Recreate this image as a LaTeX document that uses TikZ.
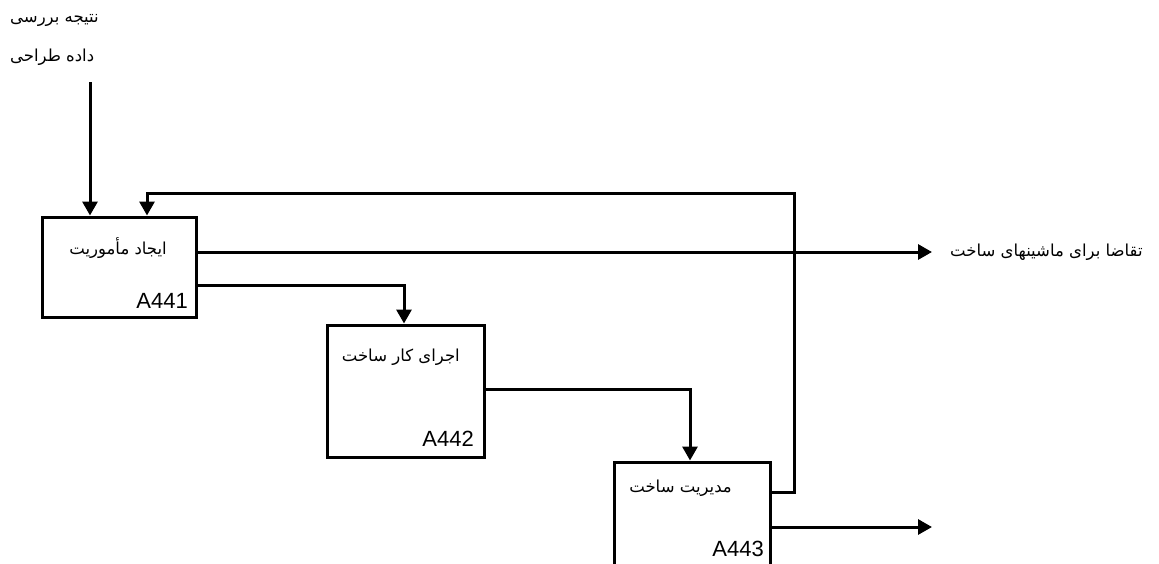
\documentclass[tikz,border=0pt]{standalone}
\usepackage{fontspec}
\setmainfont{Liberation Sans}
\newfontfamily\arabicfont[Script=Arabic]{DejaVu Sans}
\TeXXeTstate=1
\usetikzlibrary{arrows.meta}
\begin{document}
\begin{tikzpicture}[x=1pt,y=-1pt,
  box/.style={draw,line width=3pt,rectangle,inner sep=0pt},
  conn/.style={line width=3pt},
  arr/.style={conn,-{Triangle[length=14pt,width=15pt]}},
  ar/.style={font=\arabicfont\fontsize{16.5}{18}\selectfont,inner sep=0pt},
  code/.style={font=\fontsize{22}{24}\selectfont,inner sep=0pt,anchor=south east}]
\useasboundingbox (0,0) rectangle (1159,563);
% boxes
\node[box,minimum width=154pt,minimum height=100pt] (b1) at (119,267) {};
\node[box,minimum width=157pt,minimum height=132pt] (b2) at (405.5,391) {};
\node[box,minimum width=156pt,minimum height=104pt] (b3) at (692,514) {};
% box texts
\node[ar,anchor=east] (t1) at (167,248) {\beginR ایجاد مأموریت\endR};
\node[ar,anchor=east] (t2) at (460,357) {\beginR اجرای کار ساخت\endR};
\node[ar,anchor=east] (t3) at (732,488) {\beginR مدیریت ساخت\endR};
\node[code] (c1) at (188,309) {A441};
\node[code] (c2) at (474,447) {A442};
\node[code] (c3) at (764,557) {A443};
% outer labels
\node[ar,anchor=west] (l1) at (10,20) {\beginR نتیجه بررسی\endR};
\node[ar,anchor=west] (l2) at (10,57) {\beginR داده طراحی\endR};
\node[ar,anchor=west] (l3) at (950,252) {\beginR تقاضا برای ماشینهای ساخت\endR};
% coordinates
\coordinate (in) at (90,82);
\coordinate (o1) at (932,252);
\coordinate (o3) at (932,527);
\coordinate (fr) at (794,193);
\coordinate (fl) at (147,193);
% connectors
\draw[arr] (in) -- (in |- b1.north);
\draw[arr] (b1.east |- o1) -- (o1);
\draw[arr] (b1.east |- 0,285) -| (404,0 |- b2.north);
\draw[arr] (b2.east |- 0,389) -| (690,0 |- b3.north);
\draw[arr] (b3.east |- o3) -- (o3);
\draw[arr] (b3.east |- 0,492) -| (fr) -| (fl |- b1.north);
\end{tikzpicture}
\end{document}
